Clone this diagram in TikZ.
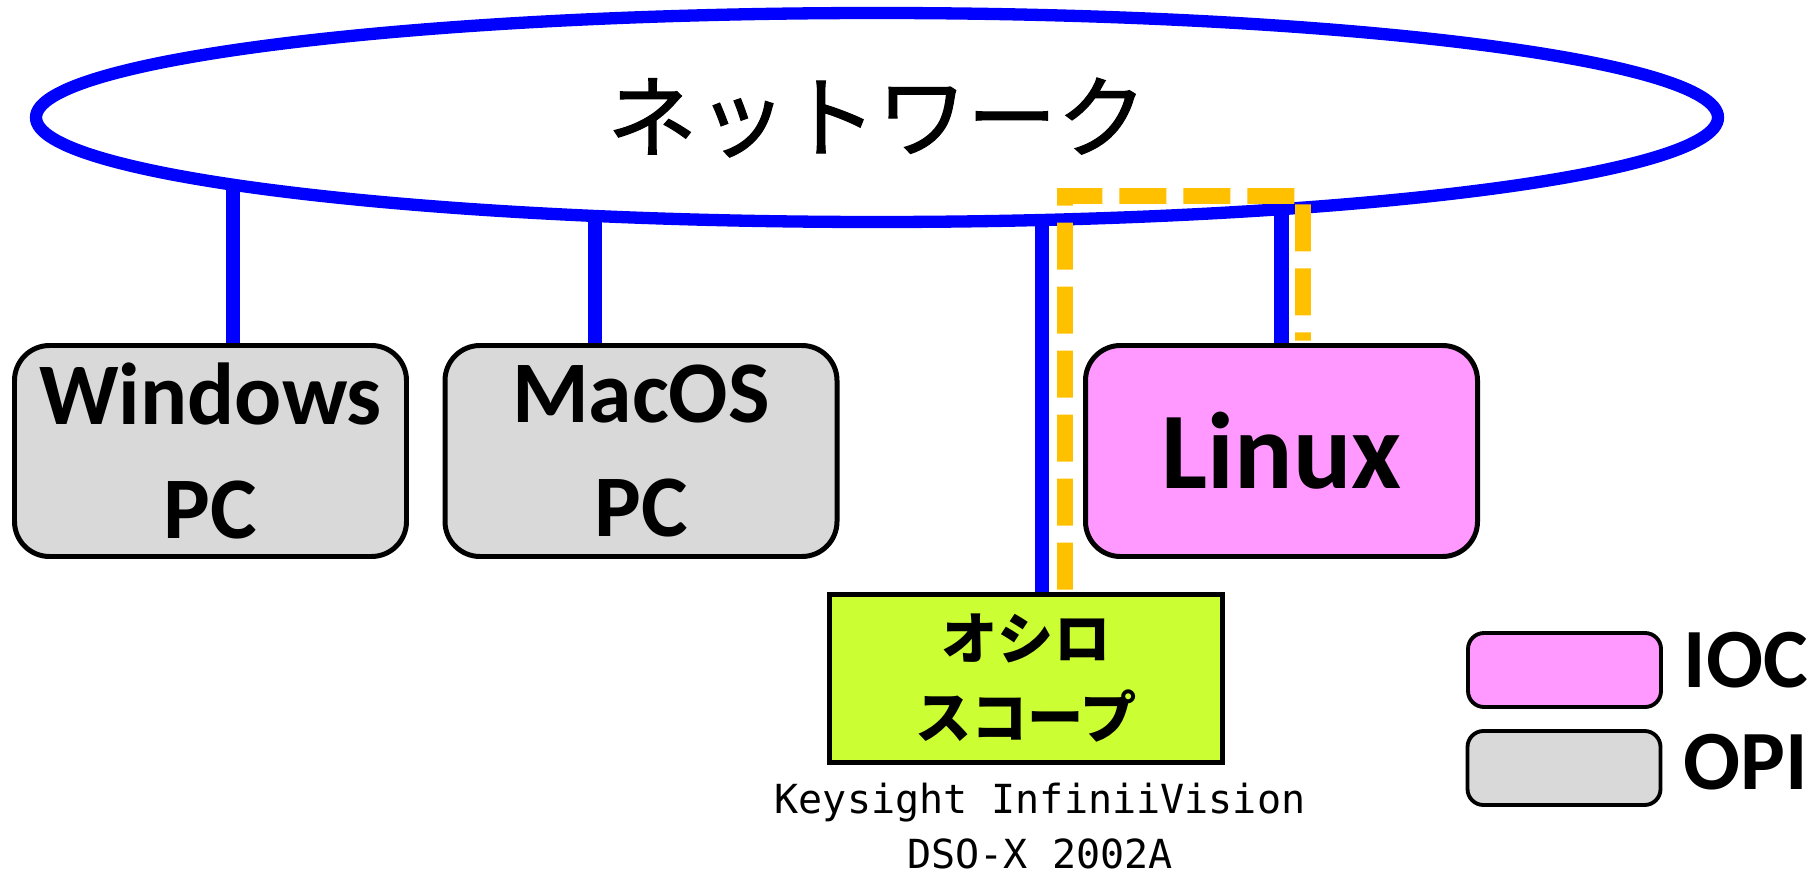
\documentclass[tikz,border=0pt]{standalone}
\usepackage{fontspec}
\setmainfont{Carlito}
\newfontfamily\jpfont{Noto Sans CJK JP}
\newfontfamily\jpnet[FakeBold=1.2]{Noto Sans CJK JP}
\newfontfamily\monofont{DejaVu Sans Mono}
\usetikzlibrary{shapes.geometric,backgrounds}
\definecolor{netblue}{HTML}{0000FF}
\definecolor{iocfill}{HTML}{FF99FF}
\definecolor{opifill}{HTML}{D9D9D9}
\definecolor{scopefill}{HTML}{CCFF33}
\definecolor{hlorange}{HTML}{FFC000}
\begin{document}
\begin{tikzpicture}[x=0.1mm,y=-0.1mm,
  pcbox/.style={draw=black, line width=1.42pt, rounded corners=3.5mm,
    minimum width=3.92cm, minimum height=2.11cm, inner sep=0pt, align=center,
    font=\bfseries\fontsize{25pt}{32.4pt}\selectfont},
  legbox/.style={draw=black, line width=1.1pt, rounded corners=1.6mm,
    minimum width=1.93cm, minimum height=0.74cm, inner sep=0pt},
  legtext/.style={anchor=west, inner sep=0pt, font=\bfseries\fontsize{24pt}{28pt}\selectfont},
  netline/.style={draw=netblue, line width=4.2pt},
  hlpath/.style={draw=hlorange, line width=4.5pt, dash pattern=on 4.7mm off 1.7mm}]
\useasboundingbox (0,0) rectangle (1820,874);

\node[ellipse, draw=netblue, line width=3.5pt, fill=white, minimum width=16.82cm,
  minimum height=2.09cm, inner sep=0pt,
  font=\jpnet\fontsize{25.6pt}{30pt}\selectfont] (net) at (877,117.5) {ネットワーク};

\node[pcbox, fill=opifill] (win) at (210.5,451) {Windows\\PC};
\node[pcbox, fill=opifill] (mac) at (641,451) {MacOS\\PC};
\node[pcbox, fill=iocfill, font=\bfseries\fontsize{31pt}{36pt}\selectfont] (linux) at (1281.5,451) {Linux};
\node[draw=black, line width=1.42pt, fill=scopefill, minimum width=3.93cm,
  minimum height=1.68cm, inner sep=0pt, align=center,
  font=\jpfont\bfseries\fontsize{16pt}{22.5pt}\selectfont] (scope) at (1026,678.5) {オシロ\\スコープ};
\node[align=center, inner sep=0pt, font=\monofont\fontsize{11.4pt}{15.4pt}\selectfont]
  (model) at (1040,826) {Keysight InfiniiVision\\DSO-X 2002A};

\node[legbox, fill=iocfill] (legioc) at (1564.5,670) {};
\node[legbox, fill=opifill] (legopi) at (1564,768) {};
\node[legtext] (tioc) at (1683,660) {IOC};
\node[legtext] (topi) at (1683,762) {OPI};

\begin{scope}[on background layer]
  \draw[netline] ([xshift=2.25mm]win.north) -- ([xshift=2.25mm]win.north |- net.center);
  \draw[netline] ([xshift=-4.6mm]mac.north) -- ([xshift=-4.6mm]mac.north |- net.center);
  \draw[netline] ([xshift=1.6mm]scope.north) -- ([xshift=1.6mm]scope.north |- net.center);
  \draw[netline] (linux.north) -- (linux.north |- net.center);
\end{scope}

\coordinate (hltop) at (1303,196);
\draw[hlpath] ([xshift=3.9mm,yshift=0.7pt]scope.north) |- (hltop)
  -- ([xshift=2.15mm,yshift=0.7pt]linux.north);
\end{tikzpicture}
\end{document}
